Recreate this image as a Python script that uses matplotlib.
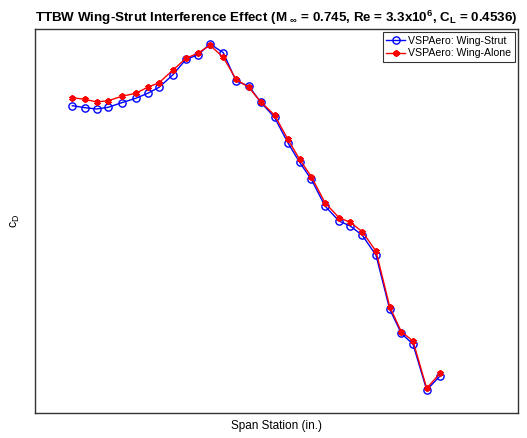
import matplotlib
matplotlib.use("Agg")
import matplotlib.pyplot as plt

plt.rcParams['font.family'] = ['Liberation Sans', 'DejaVu Sans']
plt.rcParams['mathtext.fontset'] = 'custom'
plt.rcParams['mathtext.rm'] = 'Liberation Sans'
plt.rcParams['mathtext.it'] = 'Liberation Sans'
plt.rcParams['mathtext.bf'] = 'Liberation Sans:bold'
plt.rcParams['mathtext.default'] = 'regular'

# Span station (arbitrary units; no tick labels shown)
span_station = [37.8, 50.5, 62.2, 73.8, 87.2, 101.2, 113.2, 124.5, 138.2, 151.5,
                163.2, 175.5, 188.8, 201.5, 214.2, 226.0, 240.0, 253.3, 265.2, 276.8,
                290.5, 304.5, 315.8, 327.8, 341.5, 355.2, 366.8, 378.5, 392.2, 405.5]

# c_D (arbitrary units, relative scale)
cd_wing_strut = [307.6, 305.6, 304.3, 306.0, 310.6, 315.0, 320.0, 326.0, 338.3, 354.0,
                 358.3, 369.3, 360.6, 332.3, 327.3, 311.3, 296.0, 270.6, 250.8, 234.0,
                 207.3, 192.3, 187.3, 178.0, 158.1, 104.0, 80.0, 69.0, 23.3, 37.3]
cd_wing_alone = [315.6, 314.0, 311.3, 312.6, 317.0, 320.0, 326.0, 330.6, 343.0, 355.0,
                 360.0, 368.0, 356.0, 334.0, 326.0, 311.6, 298.3, 274.0, 253.8, 236.6,
                 210.6, 195.6, 191.0, 181.6, 162.1, 106.6, 81.6, 72.3, 25.0, 40.0]

labels = ['VSPAero: Wing-Strut', 'VSPAero: Wing-Alone']

fig = plt.figure(figsize=(5.27, 4.38), dpi=100)
ax = fig.add_axes([0.0655, 0.0564, 0.918, 0.8774])

ax.plot(span_station, cd_wing_strut, '-', color='#0000ff', lw=1.0, marker='o',
        markersize=5.2, markerfacecolor='none', markeredgecolor='#0000ff',
        markeredgewidth=1.0, label=labels[0])
ax.plot(span_station, cd_wing_alone, '-', color='#ff0000', lw=1.0, marker=(6, 2, 0),
        markersize=4.5, markeredgecolor='#ff0000', markeredgewidth=1.5,
        label=labels[1])

ax.set_xlim(0, 483.8)
ax.set_ylim(0, 384.3)
ax.set_xticks([])
ax.set_yticks([])
for s in ax.spines.values():
    s.set_color('#333333')
    s.set_linewidth(1.0)

ax.set_xlabel('Span Station (in.)', fontsize=8.5, labelpad=5)
ax.set_ylabel(r'c$_{D}$', fontsize=9, labelpad=9)
ax.set_title(r'TTBW Wing-Strut Interference Effect (M $_{\mathregular{\infty}}$ = 0.745, Re = 3.3x10$^{6}$, C$_{L}$ = 0.4536)',
             fontsize=9.6, fontweight='bold', pad=5)

leg = ax.legend(loc='upper right', fontsize=7.6, frameon=True, fancybox=False,
                edgecolor='black', handlelength=1.8, handletextpad=0.3,
                borderpad=0.35, labelspacing=0.25, borderaxespad=0.3)
leg.get_frame().set_linewidth(0.8)

fig.savefig('out.png', dpi=100)
